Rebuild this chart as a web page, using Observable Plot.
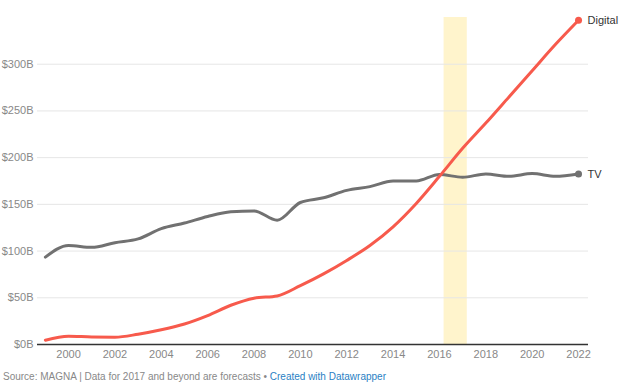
<!DOCTYPE html>
<html>
<head>
<meta charset="utf-8">
<script src="https://cdn.jsdelivr.net/npm/d3@7"></script>
<script src="https://cdn.jsdelivr.net/npm/@observablehq/plot@0.6"></script>
<style>
  body { margin: 0; background: #fff; font-family: "Liberation Sans", Arial, sans-serif; }
  #chart svg { display: block; }
  .footer { font-size: 10px; color: #888; margin: 6px 0 0 3px; }
  .footer a { color: #2a7fc4; text-decoration: none; }
</style>
</head>
<body>
<div id="chart"></div>
<div class="footer">Source: MAGNA | Data for 2017 and beyond are forecasts • <a>Created with Datawrapper</a></div>
<script>
const years = [1999,2000,2001,2002,2003,2004,2005,2006,2007,2008,2009,2010,2011,2012,2013,2014,2015,2016,2017,2018,2019,2020,2021,2022];
const tv = [93.5,106,104,109,113,124,130,137,142,143,133,152,157,165,169,175,175,182,179,182.5,180,183,180,182.5];
const digital = [4.6,8.9,8,7.8,11,15.7,22,31,42,49.6,52,63,75.6,90,106,126,151,180,210,237,265,293,321,347];
const yTicks = [0,50,100,150,200,250,300];
const xTicks = [2000,2002,2004,2006,2008,2010,2012,2014,2016,2018,2020,2022];
const band = [{x1: 2016.2, x2: 2017.2}];
const seriesNames = ["TV", "Digital"];
const colors = {TV: "#717171", Digital: "#f75a4c"};

const rows = [];
years.forEach((yr, i) => {
  rows.push({series: "TV", year: yr, value: tv[i]});
  rows.push({series: "Digital", year: yr, value: digital[i]});
});
const last = rows.filter(d => d.year === years[years.length - 1]);

const plot = Plot.plot({
  width: 624,
  height: 365,
  marginLeft: 37,
  marginRight: 36,
  marginTop: 17,
  marginBottom: 21,
  style: {fontFamily: "'Liberation Sans', Arial, sans-serif", fontSize: "11px", color: "#888"},
  x: {domain: [1998.66, 2022.43], label: null, ticks: xTicks, tickFormat: "d", tickSize: 0, tickPadding: 6},
  y: {domain: [0, 350], label: null, ticks: yTicks, tickFormat: d => "$" + d + "B", tickSize: 0, tickPadding: 4},
  marks: [
    Plot.rectY(band, {x1: "x1", x2: "x2", y1: 0, y2: 350, fill: "#fff4cc"}),
    Plot.ruleY(yTicks.filter(d => d > 0), {stroke: "#e6e6e6", strokeWidth: 1}),
    Plot.ruleY([0], {stroke: "#333", strokeWidth: 1.5}),
    Plot.line(rows, {x: "year", y: "value", z: "series", stroke: d => colors[d.series], strokeWidth: 3, curve: "monotone-x"}),
    Plot.dot(last, {x: "year", y: "value", fill: d => colors[d.series], r: 3.5}),
    Plot.text(last, {x: "year", y: "value", text: "series", dx: 9, textAnchor: "start", fill: "#333", fontSize: 11})
  ]
});
document.getElementById("chart").appendChild(plot);
</script>
</body>
</html>
